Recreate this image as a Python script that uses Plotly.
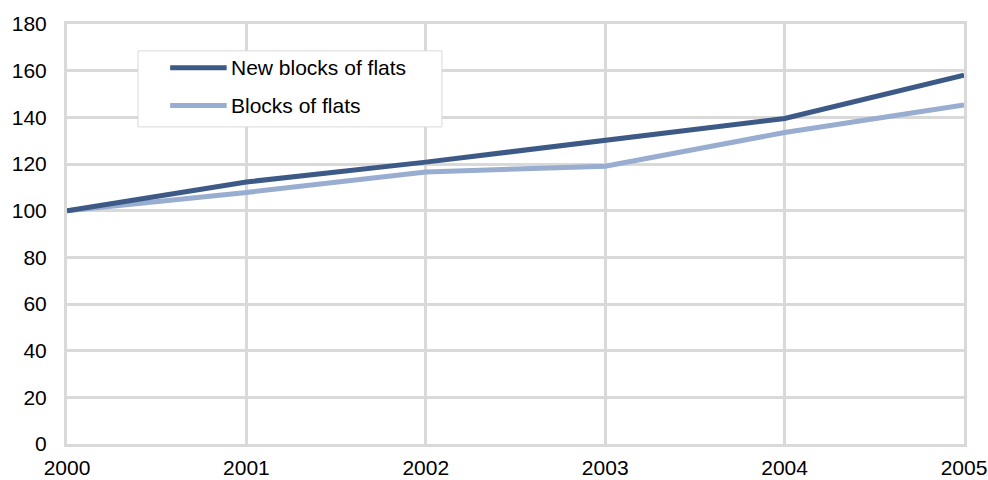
import plotly.graph_objects as go

years = [2000, 2001, 2002, 2003, 2004, 2005]
new_blocks = [100, 112.3, 120.8, 130.2, 139.5, 158.1]
blocks = [100, 107.8, 116.6, 119.0, 133.5, 145.3]
series_names = ["New blocks of flats", "Blocks of flats"]
y_ticks = [0, 20, 40, 60, 80, 100, 120, 140, 160, 180]

dark = "#3d5a87"
light = "#98adcf"
grid = "#d9d9d9"
font = dict(family="Liberation Sans, Arial, sans-serif", size=21, color="#000000")

fig = go.Figure()
fig.add_trace(go.Scatter(x=years, y=blocks, name=series_names[1], mode="lines",
                         line=dict(color=light, width=5), cliponaxis=False))
fig.add_trace(go.Scatter(x=years, y=new_blocks, name=series_names[0], mode="lines",
                         line=dict(color=dark, width=5), cliponaxis=False))

# legend drawn as a framed box with line samples
box = dict(x0=0.0792, x1=0.418, y0=0.755, y1=0.936)
fig.add_shape(type="rect", xref="paper", yref="paper", **box,
              line=dict(color=grid, width=1), fillcolor="white", layer="above")
rows = [(0.896, dark, series_names[0]), (0.806, light, series_names[1])]
for yy, col, label in rows:
    fig.add_shape(type="line", xref="paper", yref="paper", x0=0.115, x1=0.178, y0=yy, y1=yy,
                  line=dict(color=col, width=5), layer="above")
    fig.add_annotation(xref="paper", yref="paper", x=0.181, y=yy, text=label, showarrow=False,
                       xanchor="left", yanchor="middle", font=font)

fig.update_layout(
    width=988, height=480,
    margin=dict(l=67, r=24, t=24, b=36, autoexpand=False),
    paper_bgcolor="white", plot_bgcolor="white",
    showlegend=False,
    font=font,
    xaxis=dict(range=[2000, 2005], tickvals=years, ticktext=[str(y) for y in years],
               showgrid=True, gridcolor=grid, gridwidth=3, zeroline=False,
               showline=True, linecolor=grid, linewidth=3, mirror=True, automargin=False,
               ticks="", ticklabelstandoff=3, tickfont=font),
    yaxis=dict(range=[0, 180], tickvals=y_ticks,
               showgrid=True, gridcolor=grid, gridwidth=3, zeroline=False,
               showline=True, linecolor=grid, linewidth=3, mirror=True, automargin=False,
               ticks="", ticklabelstandoff=13, tickfont=font),
)

fig.write_html("out.html")
